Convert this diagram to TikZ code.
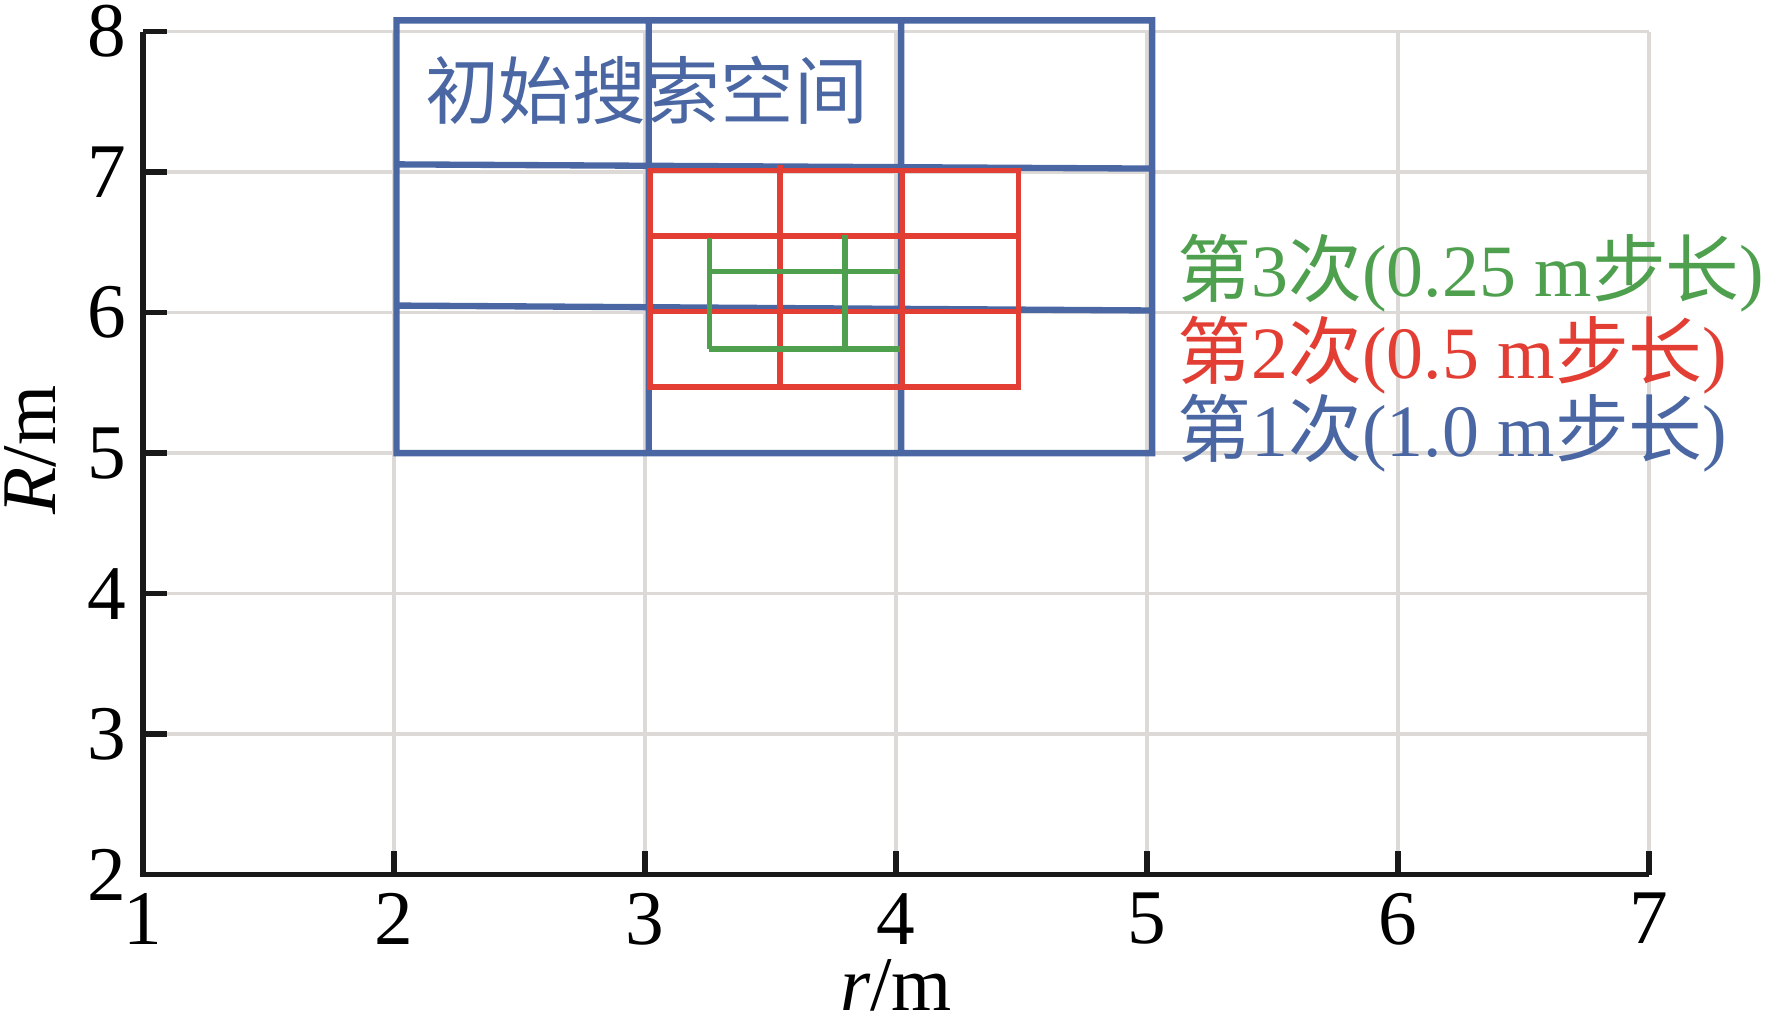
\documentclass[tikz,border=0pt]{standalone}
\usepackage{fontspec}
\setmainfont{Liberation Serif}
\newfontfamily\cjkfont{Noto Sans CJK SC}
\definecolor{gridgray}{RGB}{221,217,214}
\definecolor{stepblue}{RGB}{74,103,163}
\definecolor{stepred}{RGB}{226,62,52}
\definecolor{stepgreen}{RGB}{78,160,78}

\begin{document}
\begin{tikzpicture}[x=2.51cm,y=1.405cm,
 gridline/.style={gridgray,line width=1pt},
 axisline/.style={black!90,line width=1.5pt},
 firststep/.style={stepblue,line width=1.8pt},
 secondstep/.style={stepred,line width=1.5pt},
 thirdstep/.style={stepgreen,line width=1.5pt},
 ticklabel/.style={font=\fontsize{22}{26}\selectfont,inner sep=0pt},
 legendtext/.style={font=\fontsize{21}{25}\selectfont,anchor=west,inner sep=0pt}]

\useasboundingbox (0.430,0.958) rectangle (7.470,8.225);

\draw[gridline] (2,2)--(2,8) (3,2)--(3,8) (4,2)--(4,8)
                (5,2)--(5,8) (6,2)--(6,8) (7,2)--(7,8)
                (1,3)--(7,3) (1,4)--(7,4) (1,5)--(7,5)
                (1,6)--(7,6) (1,7)--(7,7) (1,8)--(7,8);

\draw[axisline] (1,8)--(1,2)--(7,2);
\draw[axisline] (1,3)--(1.095,3) (1,4)--(1.095,4) (1,5)--(1.095,5)
                (1,6)--(1.095,6) (1,7)--(1.095,7) (1,8)--(1.095,8)
                (2,2)--(2,2.17) (3,2)--(3,2.17) (4,2)--(4,2.17)
                (5,2)--(5,2.17) (6,2)--(6,2.17) (7,2)--(7,2.17);

\node[ticklabel,anchor=east] (ytick2) at (0.936,2) {2};
\node[ticklabel,anchor=east] (ytick3) at (0.936,3) {3};
\node[ticklabel,anchor=east] (ytick4) at (0.936,4) {4};
\node[ticklabel,anchor=east] (ytick5) at (0.936,5) {5};
\node[ticklabel,anchor=east] (ytick6) at (0.936,6) {6};
\node[ticklabel,anchor=east] (ytick7) at (0.936,7) {7};
\node[ticklabel,anchor=east] (ytick8) at (0.936,8) {8};

\node[ticklabel,anchor=north] (xtick1) at (1,1.873) {1};
\node[ticklabel,anchor=north] (xtick2) at (2,1.873) {2};
\node[ticklabel,anchor=north] (xtick3) at (3,1.873) {3};
\node[ticklabel,anchor=north] (xtick4) at (4,1.873) {4};
\node[ticklabel,anchor=north] (xtick5) at (5,1.873) {5};
\node[ticklabel,anchor=north] (xtick6) at (6,1.873) {6};
\node[ticklabel,anchor=north] (xtick7) at (7,1.873) {7};

\node[ticklabel] (xlabel) at (4.0,1.21) {\itshape r\upshape/m};
\node[ticklabel,rotate=90] (ylabel) at (0.55,5.02) {\itshape R\upshape/m};

\draw[firststep] (2.01,5.0) rectangle (5.02,8.08)
                 (3.015,5.0)--(3.015,8.08) (4.02,5.0)--(4.02,8.08)
                 (2.01,7.055)--(5.02,7.025) (2.01,6.05)--(5.02,6.015);

\draw[secondstep] (3.02,5.47) rectangle (4.487,7.01)
                  (3.538,5.47)--(3.538,7.05) (4.025,5.47)--(4.025,7.01)
                  (3.02,6.545)--(4.487,6.545) (3.02,6.01)--(4.487,6.01);

\draw[thirdstep] (3.256,5.74)--(3.256,6.53) (3.797,5.74)--(3.797,6.55)
                 (3.256,6.29)--(4.016,6.29) (3.256,5.74)--(4.016,5.74);

\node[ticklabel,text=stepblue,font=\cjkfont\fontsize{21}{25}\selectfont] (space) at (3.006,7.58) {初始搜索空间};

\node[legendtext,text=stepgreen] (third) at (5.12,6.28) {{\cjkfont 第}3{\cjkfont 次}(0.25 m{\cjkfont 步长})};
\node[legendtext,text=stepred] (second) at (5.12,5.70) {{\cjkfont 第}2{\cjkfont 次}(0.5 m{\cjkfont 步长})};
\node[legendtext,text=stepblue] (first) at (5.12,5.14) {{\cjkfont 第}1{\cjkfont 次}(1.0 m{\cjkfont 步长})};
\end{tikzpicture}
\end{document}
